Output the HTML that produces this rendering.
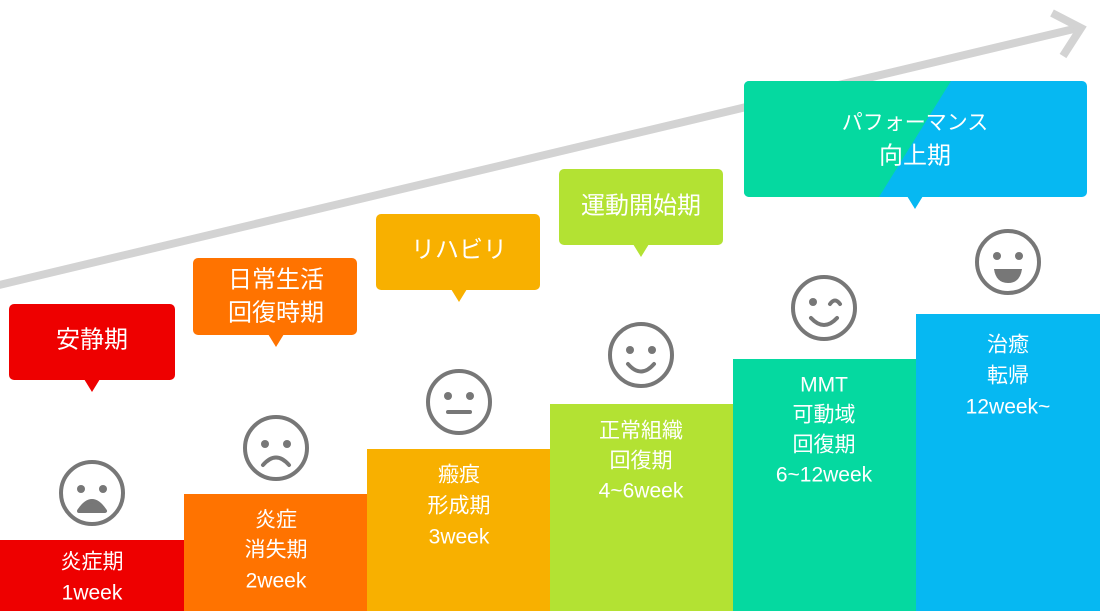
<!DOCTYPE html>
<html><head><meta charset="utf-8"><style>
html,body{margin:0;padding:0;background:#fff;}
svg{display:block;}
text{font-family:"Liberation Sans","Noto Sans CJK JP",sans-serif;fill:#fff;text-anchor:middle;dominant-baseline:central;}
</style></head><body>
<svg width="1100" height="611" viewBox="0 0 1100 611" xmlns="http://www.w3.org/2000/svg">
<line x1="-5" y1="286" x2="1078" y2="28" stroke="#d3d3d3" stroke-width="8"/>
<polyline points="1052,13 1081,28 1063,56" fill="none" stroke="#d3d3d3" stroke-width="8"/>

<rect x="0" y="540" width="184" height="71" fill="#ee0000"/>
<rect x="184" y="494" width="183" height="117" fill="#ff7300"/>
<rect x="367" y="449" width="183" height="162" fill="#f8b000"/>
<rect x="550" y="404" width="183" height="207" fill="#b3e233"/>
<rect x="733" y="359" width="183" height="252" fill="#05d9a0"/>
<rect x="916" y="314" width="184" height="297" fill="#06b8f2"/>

<g font-size="21">
<text x="92" y="562">炎症期</text><text x="92" y="593">1week</text>
<text x="276" y="520">炎症</text><text x="276" y="550">消失期</text><text x="276" y="581">2week</text>
<text x="459" y="475">瘢痕</text><text x="459" y="506">形成期</text><text x="459" y="537">3week</text>
<text x="641" y="431">正常組織</text><text x="641" y="461">回復期</text><text x="641" y="491">4~6week</text>
<text x="824" y="385">MMT</text><text x="824" y="415">可動域</text><text x="824" y="445">回復期</text><text x="824" y="475">6~12week</text>
<text x="1008" y="345">治癒</text><text x="1008" y="376">転帰</text><text x="1008" y="407">12week~</text>
</g>

<rect x="9" y="304" width="166" height="76" rx="5" fill="#ee0000"/>
<polygon points="84,379 100,379 92,392" fill="#ee0000"/>
<text x="92" y="340" font-size="24">安静期</text>

<rect x="193" y="258" width="164" height="77" rx="5" fill="#ff7300"/>
<polygon points="268,334 284,334 276,347" fill="#ff7300"/>
<text x="276" y="280" font-size="24">日常生活</text><text x="276" y="313" font-size="24">回復時期</text>

<rect x="376" y="214" width="164" height="76" rx="5" fill="#f8b000"/>
<polygon points="451,289 467,289 459,302" fill="#f8b000"/>
<text x="459" y="250" font-size="24">リハビリ</text>

<rect x="559" y="169" width="164" height="76" rx="5" fill="#b3e233"/>
<polygon points="633,244 649,244 641,257" fill="#b3e233"/>
<text x="641" y="206" font-size="24">運動開始期</text>

<defs><clipPath id="c5"><rect x="744" y="81" width="343" height="116" rx="5"/></clipPath></defs>
<g clip-path="url(#c5)">
<rect x="744" y="81" width="343" height="116" fill="#06b8f2"/>
<polygon points="744,81 951,81 879,197 744,197" fill="#05d9a0"/>
</g>
<polygon points="907,196 923,196 915,209" fill="#06b8f2"/>
<text x="915" y="123" font-size="21">パフォーマンス</text>
<text x="915" y="156" font-size="24">向上期</text>

<g fill="none" stroke="#777" stroke-width="4">
<circle cx="92" cy="493" r="31"/><circle cx="276" cy="448" r="31"/><circle cx="459" cy="402" r="31"/>
<circle cx="641" cy="355" r="31"/><circle cx="824" cy="308" r="31"/><circle cx="1008" cy="262" r="31"/>
</g>
<g fill="#777">
<circle cx="81" cy="489" r="4"/><circle cx="103" cy="489" r="4"/>
<path d="M79,511 Q92,491 105,511 Z" stroke="#777" stroke-width="4" stroke-linejoin="round"/>
<circle cx="265" cy="444" r="4"/><circle cx="287" cy="444" r="4"/>
<circle cx="448" cy="396" r="4"/><circle cx="470" cy="396" r="4"/>
<circle cx="630" cy="350" r="4"/><circle cx="652" cy="350" r="4"/>
<circle cx="813" cy="302" r="4"/>
<circle cx="997" cy="256" r="4"/><circle cx="1019" cy="256" r="4"/>
<path d="M994,269 L1022,269 Q1020,283 1008,283 Q996,283 994,269 Z"/>
</g>
<g fill="none" stroke="#777" stroke-width="4" stroke-linecap="round">
<path d="M263,465 Q276,450 289,465"/>
<line x1="448" y1="412" x2="470" y2="412"/>
<path d="M628,364 Q641,379 654,364"/>
<path d="M811,318 Q824,332 837,318"/>
<path d="M830,304 Q835,297 840,304"/>
</g>
</svg>
</body></html>
